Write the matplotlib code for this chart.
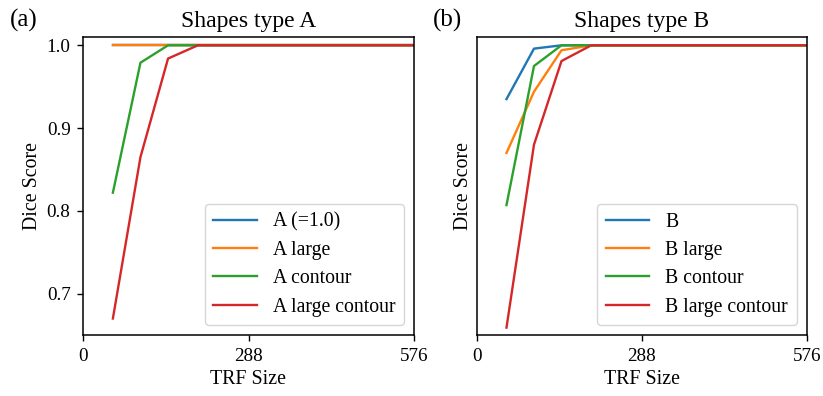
import matplotlib
matplotlib.use("Agg")
import matplotlib.pyplot as plt

plt.rcParams['font.family'] = ['Liberation Serif', 'DejaVu Serif']

# TRF sizes (x positions of the samples)
trf = [52, 100, 148, 200, 250, 300, 350, 400, 450, 500, 550, 576]

# Shapes type A
a_base = [1.0] * 12
a_large = [1.0] * 12
a_contour = [0.822, 0.979, 1.0, 1.0, 1.0, 1.0, 1.0, 1.0, 1.0, 1.0, 1.0, 1.0]
a_large_contour = [0.670, 0.865, 0.984, 1.0, 1.0, 1.0, 1.0, 1.0, 1.0, 1.0, 1.0, 1.0]

# Shapes type B
b_base = [0.935, 0.996, 1.0, 1.0, 1.0, 1.0, 1.0, 1.0, 1.0, 1.0, 1.0, 1.0]
b_large = [0.870, 0.944, 0.994, 1.0, 1.0, 1.0, 1.0, 1.0, 1.0, 1.0, 1.0, 1.0]
b_contour = [0.807, 0.975, 1.0, 1.0, 1.0, 1.0, 1.0, 1.0, 1.0, 1.0, 1.0, 1.0]
b_large_contour = [0.659, 0.880, 0.981, 1.0, 1.0, 1.0, 1.0, 1.0, 1.0, 1.0, 1.0, 1.0]

labels_a = ['A (=1.0)', 'A large', 'A contour', 'A large contour']
labels_b = ['B', 'B large', 'B contour', 'B large contour']
xticks = [0, 288, 576]
yticks = [0.7, 0.8, 0.9, 1.0]

fig = plt.figure(figsize=(8.23, 3.96), dpi=100)
ax1 = fig.add_axes([83 / 823, 1 - 335.3 / 396, 331 / 823, 298.6 / 396])
ax2 = fig.add_axes([476.7 / 823, 1 - 335.3 / 396, 330 / 823, 298.6 / 396])

for ax, series, labels, title in [
        (ax1, [a_base, a_large, a_contour, a_large_contour], labels_a, 'Shapes type A'),
        (ax2, [b_base, b_large, b_contour, b_large_contour], labels_b, 'Shapes type B')]:
    for s, lab in zip(series, labels):
        ax.plot(trf, s, lw=1.7, label=lab)
    ax.set_xlim(0, 576)
    ax.set_ylim(0.6497, 1.0104)
    ax.set_xticks(xticks)
    ax.set_xticklabels([str(t) for t in xticks])
    ax.set_title(title, fontsize=17, pad=7)
    ax.set_xlabel('TRF Size', fontsize=14.3)
    ax.set_ylabel('Dice Score', fontsize=14.3, labelpad=3)
    ax.tick_params(labelsize=13.8, width=1.0, length=4.5, pad=4.5)
    for sp in ax.spines.values():
        sp.set_linewidth(1.1)
    ax.legend(loc='lower right', fontsize=14.2, handlelength=2.2,
              borderpad=0.45, labelspacing=0.47, handletextpad=0.8)

ax1.set_yticks(yticks)
ax1.set_yticklabels(['0.7', '0.8', '0.9', '1.0'])
ax2.set_yticks([])

fig.text(10 / 823, 1 - 20 / 396, '(a)', fontsize=18, va='center')
fig.text(433 / 823, 1 - 20 / 396, '(b)', fontsize=18, va='center')

fig.savefig('out.png', dpi=100)
